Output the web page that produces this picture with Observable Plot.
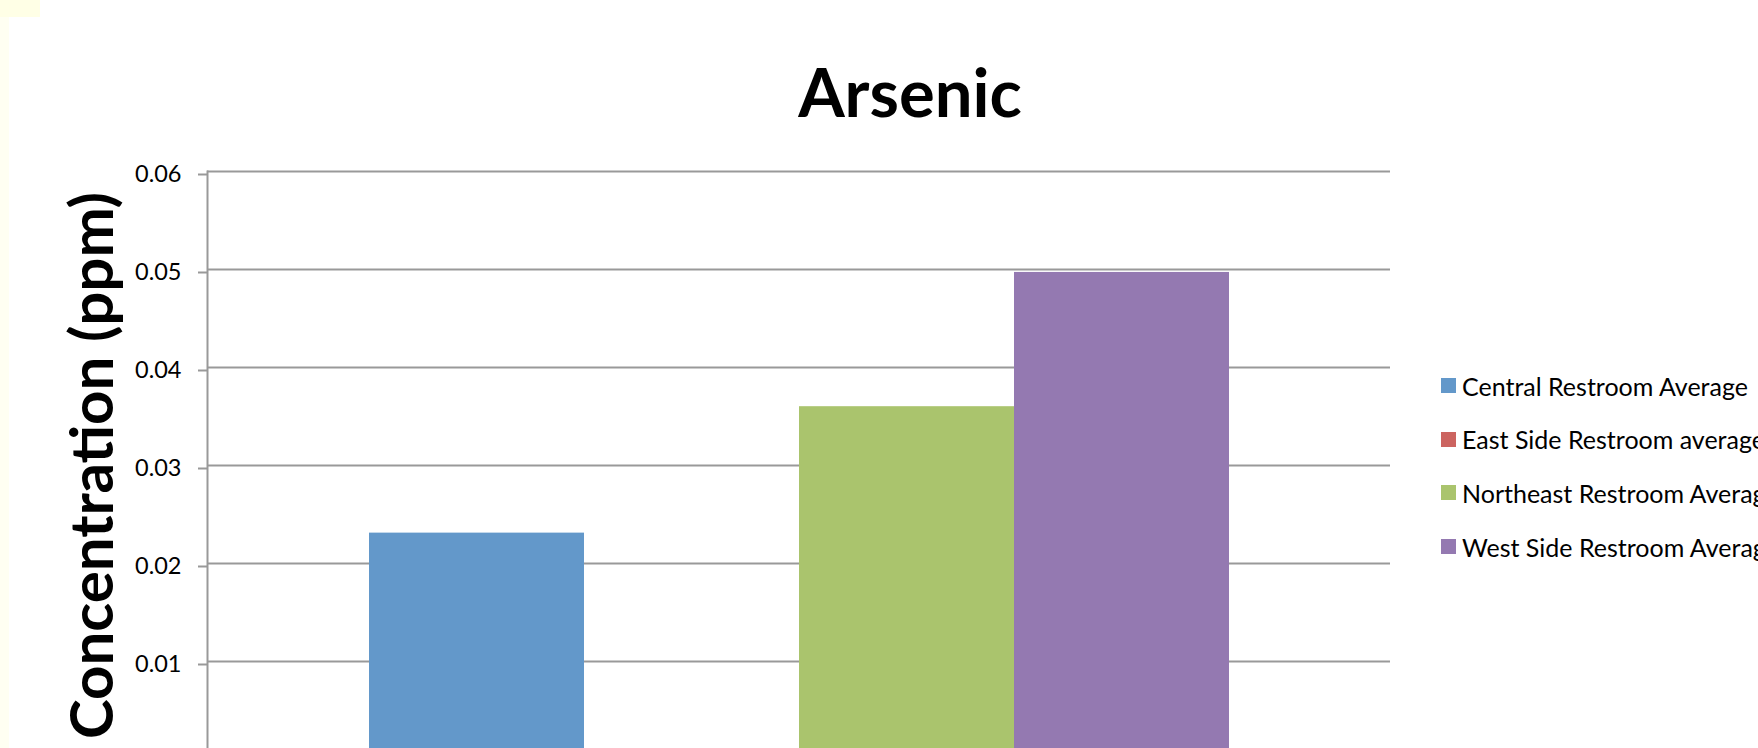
<!DOCTYPE html>
<html>
<head>
<meta charset="utf-8">
<script src="https://cdn.jsdelivr.net/npm/d3@7"></script>
<script src="https://cdn.jsdelivr.net/npm/@observablehq/plot@0.6"></script>
<style>
  html, body { margin: 0; padding: 0; background: #fff; overflow: hidden; width: 1758px; height: 748px; }
  #wrap { position: relative; width: 1758px; height: 748px; overflow: hidden; background: #fff; font-family: Lato, "Open Sans", sans-serif; }
  #wrap svg { position: absolute; left: 0; top: 0; }
  #strip { position: absolute; left: 0; top: 0; width: 9px; height: 748px; background: #FFFFF2; }
  #corner { position: absolute; left: 0; top: 0; width: 40px; height: 17px; background: #FFFFE6; }
  #title { position: absolute; left: 0; width: 1820px; top: 59px; text-align: center; font-weight: bold; font-size: 67px; line-height: 64px; color: #000; }
  .leg { position: absolute; left: 1441px; height: 30px; display: flex; align-items: center; white-space: nowrap; font-size: 25px; color: #000; }
  .sw { width: 15px; height: 15px; margin-right: 6px; flex: none; }
</style>
</head>
<body>
<div id="wrap">
  <div id="strip"></div>
  <div id="corner"></div>
  <div id="title">Arsenic</div>
</div>
<script>
const series = ["Central Restroom Average", "East Side Restroom average", "Northeast Restroom Average", "West Side Restroom Average"];
const values = [0.0231, 0, 0.0360, 0.0497];
const colors = ["#6398CA", "#CC6460", "#AAC46D", "#9479B1"];
const yTicks = [0.01, 0.02, 0.03, 0.04, 0.05, 0.06];
const yLabel = "Concentration (ppm)";

const data = series.map((s, i) => ({series: s, value: values[i]}));

const chart = Plot.plot({
  width: 1758,
  height: 779,
  marginLeft: 207,
  marginRight: 368,
  marginTop: 171,
  marginBottom: 20,
  style: {fontFamily: "Lato", fontSize: "23.5px", background: "transparent", overflow: "visible", color: "#000"},
  x: {domain: series, paddingInner: 0, paddingOuter: 0.74, axis: null},
  y: {domain: [0, 0.06], axis: null, label: null},
  color: {domain: series, range: colors},
  marks: [
    Plot.gridY(yTicks, {stroke: "#999", strokeOpacity: 1, strokeWidth: 2}),
    Plot.axisY(yTicks, {label: null, tickSize: 9, tickPadding: 17, stroke: "#999", strokeWidth: 2, fill: "#000", fontSize: 23.5, dy: 3, tickFormat: d => d.toFixed(2)}),
    Plot.barY(data, {x: "series", y: "value", fill: "series", inset: 0}),
    Plot.frame({anchor: "left", stroke: "#999", strokeWidth: 2}),
    Plot.text([yLabel], {frameAnchor: "left", rotate: -90, dx: -95, lineAnchor: "bottom", textAnchor: "middle", fontSize: 60, fontWeight: "bold", fill: "#000"})
  ]
});
const wrap = document.getElementById("wrap");
wrap.insertBefore(chart, document.getElementById("title"));

series.forEach((s, i) => {
  const row = document.createElement("div");
  row.className = "leg";
  row.style.top = (370.5 + i * 53.7) + "px";
  const sw = document.createElement("div");
  sw.className = "sw";
  sw.style.background = colors[i];
  const t = document.createElement("span");
  t.textContent = s;
  row.appendChild(sw);
  row.appendChild(t);
  wrap.appendChild(row);
});
</script>
</body>
</html>
